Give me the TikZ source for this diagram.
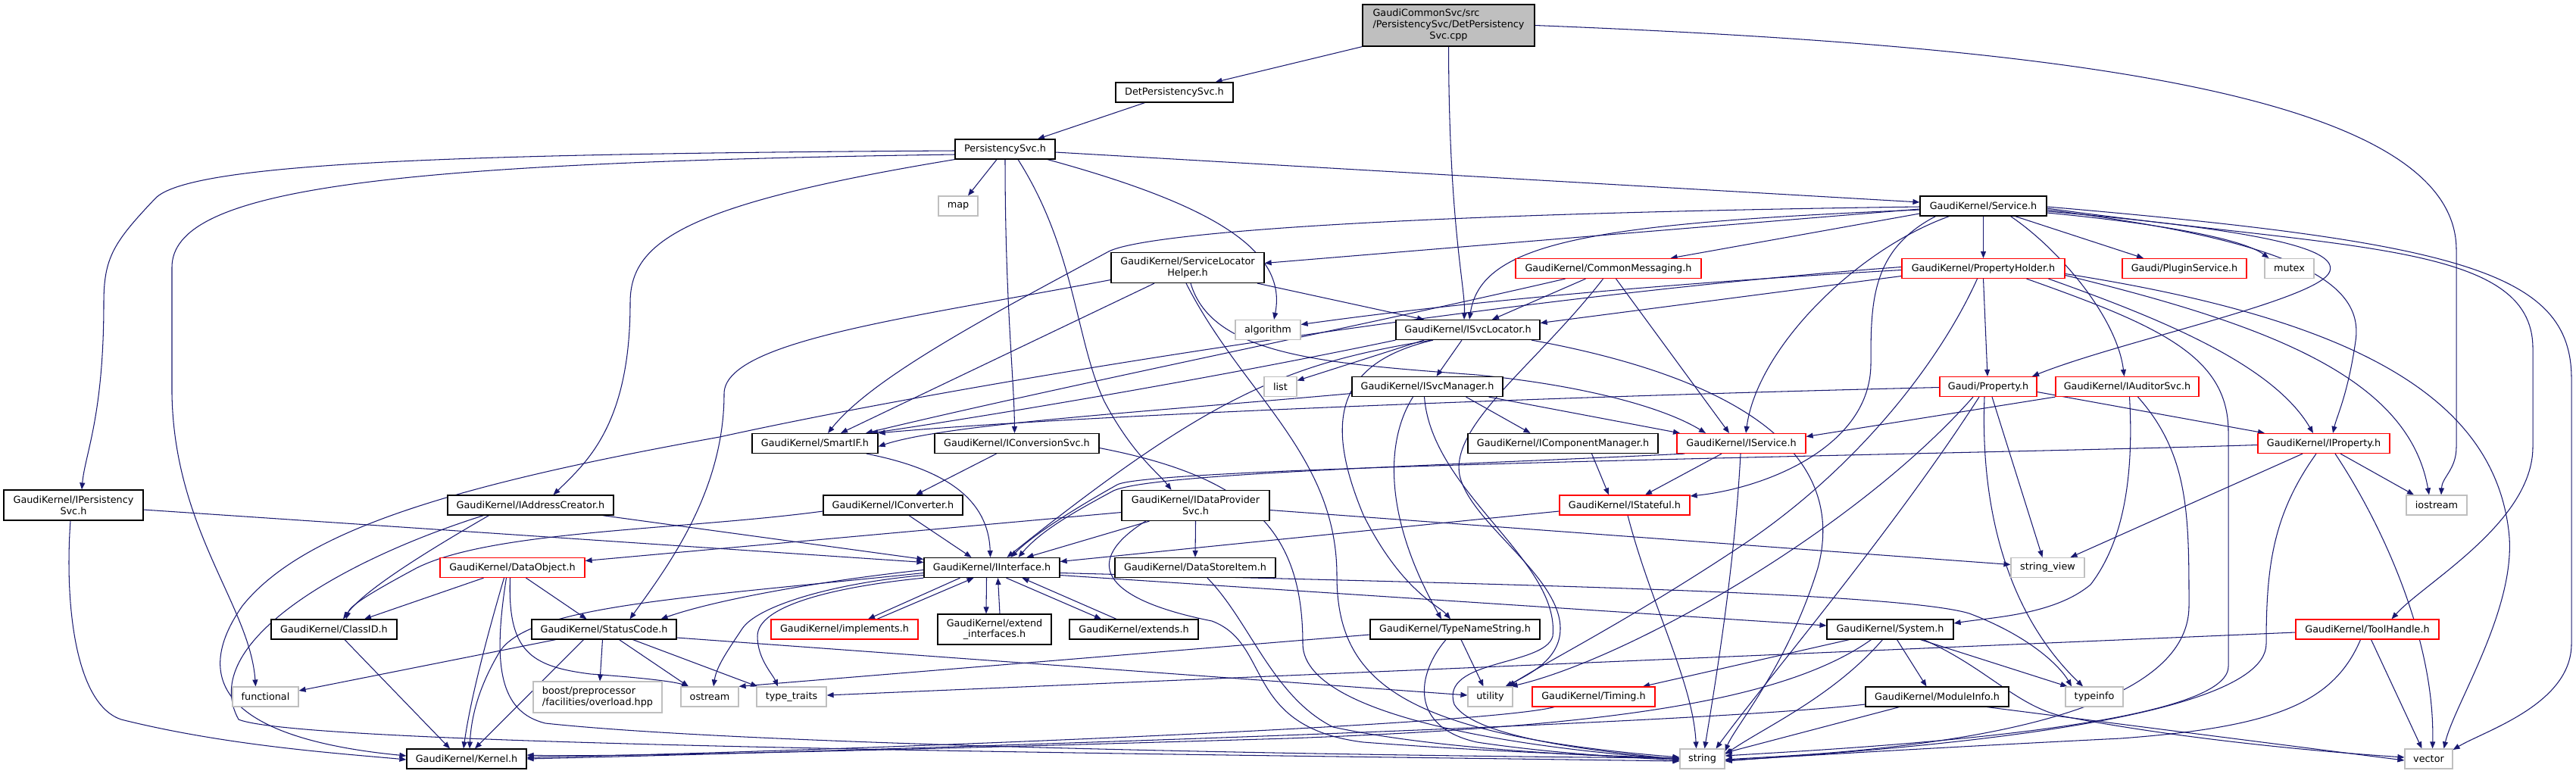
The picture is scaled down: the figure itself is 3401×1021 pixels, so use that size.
\documentclass[tikz,border=0pt]{standalone}
\usepackage{fontspec}
\setmainfont{DejaVu Sans}
\usetikzlibrary{arrows.meta}
\pgfdeclarelayer{back}
\pgfdeclarelayer{bg}
\pgfsetlayers{back,bg,main}
\definecolor{edgec}{RGB}{25,25,112}
\definecolor{grayb}{RGB}{191,191,191}
\definecolor{redb}{RGB}{255,0,0}
\begin{document}
\begin{tikzpicture}[x=1pt,y=-1pt,
  bx/.style={draw=black, fill=white, line width=1.2pt, inner sep=0pt, minimum height=26pt,
    font=\fontsize{12.8}{14.7}\selectfont, align=center},
  rbx/.style={bx, draw=redb},
  gbx/.style={bx, draw=grayb},
  edg/.style={draw=edgec, line width=1.05pt, -{Triangle[length=9pt,width=7pt]}}]
\begin{pgfonlayer}{back}
\fill[white] (0,0) rectangle (3401,1021);
\end{pgfonlayer}
\useasboundingbox (0,0) rectangle (3401,1021);
% ---------------- nodes ----------------
\node[bx, fill=grayb, minimum width=227pt, minimum height=55pt] (root) at (1912.5,33.5)
  {\begin{tabular}{@{}l@{}}GaudiCommonSvc/src\\/PersistencySvc/DetPersistency\\\multicolumn{1}{@{}c@{}}{Svc.cpp}\end{tabular}};
\node[bx, minimum width=155pt] (dph) at (1550.5,122) {DetPersistencySvc.h};
\node[bx, minimum width=132pt] (ps) at (1327,197) {PersistencySvc.h};
\node[gbx, minimum width=52pt] (map) at (1265,272) {map};
\node[bx, minimum width=167pt] (svc) at (2618.5,272) {GaudiKernel/Service.h};
\node[bx, minimum width=202pt, minimum height=40pt] (slh) at (1568,353.5) {GaudiKernel/ServiceLocator\\Helper.h};
\node[rbx, minimum width=245pt] (cm) at (2123.5,354.5) {GaudiKernel/CommonMessaging.h};
\node[rbx, minimum width=215pt] (ph) at (2618.5,354.5) {GaudiKernel/PropertyHolder.h};
\node[rbx, minimum width=164pt] (plg) at (2884,354.5) {Gaudi/PluginService.h};
\node[gbx, minimum width=65pt] (mutex) at (3022.5,354.5) {mutex};
\node[gbx, minimum width=86pt] (alg) at (1674,435.5) {algorithm};
\node[bx, minimum width=190pt] (isl) at (1938,435.5) {GaudiKernel/ISvcLocator.h};
\node[gbx, minimum width=43pt] (list) at (1690.5,510.5) {list};
\node[bx, minimum width=199pt] (ism) at (1884.5,510.5) {GaudiKernel/ISvcManager.h};
\node[rbx, minimum width=128pt] (prop) at (2625,510.5) {Gaudi/Property.h};
\node[rbx, minimum width=189pt] (ias) at (2808.5,510.5) {GaudiKernel/IAuditorSvc.h};
\node[bx, minimum width=166pt] (sif) at (1076,585.5) {GaudiKernel/SmartIF.h};
\node[bx, minimum width=217pt] (ics) at (1342.5,585.5) {GaudiKernel/IConversionSvc.h};
\node[bx, minimum width=251pt] (icm) at (2063.5,585.5) {GaudiKernel/IComponentManager.h};
\node[rbx, minimum width=170pt] (isv) at (2299,585.5) {GaudiKernel/IService.h};
\node[rbx, minimum width=174pt] (ipr) at (3068,585.5) {GaudiKernel/IProperty.h};
\node[bx, minimum width=184pt, minimum height=40pt] (ipers) at (97,667) {GaudiKernel/IPersistency\\Svc.h};
\node[bx, minimum width=219pt] (iac) at (700.5,667) {GaudiKernel/IAddressCreator.h};
\node[bx, minimum width=184pt] (icv) at (1179,667) {GaudiKernel/IConverter.h};
\node[bx, minimum width=195pt, minimum height=40pt] (idp) at (1578.5,667.5) {GaudiKernel/IDataProvider\\Svc.h};
\node[rbx, minimum width=172pt] (ist) at (2145,667) {GaudiKernel/IStateful.h};
\node[gbx, minimum width=80pt] (iost) at (3217,667) {iostream};
\node[bx, minimum width=179pt] (ii) at (1309.5,749.5) {GaudiKernel/IInterface.h};
\node[rbx, minimum width=191pt] (dob) at (676.5,749.5) {GaudiKernel/DataObject.h};
\node[bx, minimum width=212pt] (dsi) at (1578,749.5) {GaudiKernel/DataStoreItem.h};
\node[gbx, minimum width=97pt] (sv) at (2703.5,749.5) {string\_view};
\node[bx, minimum width=166pt] (cid) at (441,831) {GaudiKernel/ClassID.h};
\node[bx, minimum width=191pt] (sc) at (797.5,831) {GaudiKernel/StatusCode.h};
\node[rbx, minimum width=194pt] (impl) at (1115,831) {GaudiKernel/implements.h};
\node[bx, minimum width=150pt, minimum height=40pt] (extif) at (1313,831) {GaudiKernel/extend\\\_interfaces.h};
\node[bx, minimum width=170pt] (exts) at (1497,831) {GaudiKernel/extends.h};
\node[bx, minimum width=224pt] (tns) at (1921,831) {GaudiKernel/TypeNameString.h};
\node[bx, minimum width=167pt] (sys) at (2495.5,831) {GaudiKernel/System.h};
\node[rbx, minimum width=189pt] (th) at (3125.5,831) {GaudiKernel/ToolHandle.h};
\node[gbx, minimum width=87pt] (func) at (350.5,920) {functional};
\node[gbx, minimum width=170pt, minimum height=41pt, align=left] (boost) at (789,920.5) {boost/preprocessor\\/facilities/overload.hpp};
\node[gbx, minimum width=76pt] (ostr) at (937,920) {ostream};
\node[gbx, minimum width=92pt] (tt) at (1045,920) {type\_traits};
\node[gbx, minimum width=59pt] (util) at (1967.5,920) {utility};
\node[rbx, minimum width=162pt] (tim) at (2104,920) {GaudiKernel/Timing.h};
\node[bx, minimum width=189pt] (mi) at (2557.5,920) {GaudiKernel/ModuleInfo.h};
\node[gbx, minimum width=76pt] (ti) at (2765,920) {typeinfo};
\node[bx, minimum width=158pt] (ker) at (616,1002) {GaudiKernel/Kernel.h};
\node[gbx, minimum width=59pt] (str) at (2247.5,1002) {string};
\node[gbx, minimum width=63pt] (vec) at (3206.5,1002) {vector};
% ---------------- edges ----------------
\begin{pgfonlayer}{bg}
% root
\draw[edg] (root.south west) -- ([xshift=54pt]dph.north);
\draw[edg] (root.south) .. controls (1913,300) and (1935,380) .. ([xshift=-5pt]isl.north);
\draw[edg] (root.east) .. controls (2700,60) and (3243,120) .. (3243,330) -- (3243,590) .. controls (3243,620) and (3224,630) .. ([xshift=6pt]iost.north);
\draw[edg] ([xshift=-39pt]dph.south) -- ([xshift=43pt]ps.north);
% PersistencySvc.h
\draw[edg] ([xshift=-11pt]ps.south) -- ([xshift=13pt]map.north);
\draw[edg] ([yshift=-4pt]ps.east) -- ([yshift=5pt]svc.west);
\draw[edg] ([xshift=56pt]ps.south) .. controls (1600,270) and (1700,330) .. ([xshift=8pt]alg.north);
\draw[edg] ([yshift=-7pt]ps.west) .. controls (500,215) and (227,250) .. (227,353) -- (227,520) .. controls (230,700) and (330,800) .. ([xshift=-13pt]func.north);
\draw[edg] ([yshift=-2pt]ps.west) .. controls (600,203) and (250,215) .. (205,262) .. controls (150,320) and (137,340) .. (137,400) .. controls (137,550) and (112,600) .. ([xshift=11pt]ipers.north);
\draw[edg] (ps.south west) .. controls (900,270) and (832,320) .. (832,400) .. controls (832,560) and (775,610) .. ([xshift=30pt]iac.north);
\draw[edg] (ps.south) .. controls (1327,400) and (1339,500) .. ([xshift=-3pt]ics.north);
\draw[edg] ([xshift=17pt]ps.south) .. controls (1420,330) and (1420,450) .. (1458,530) .. controls (1495,600) and (1530,625) .. ([xshift=-32pt]idp.north);
% Service.h
\draw[edg] ([yshift=-4pt]svc.west) -- ([yshift=6pt]slh.east);
\draw[edg] ([yshift=-10pt]svc.west) -- ([xshift=82pt]cm.north);
\draw[edg] (svc.south) -- (ph.north);
\draw[edg] ([xshift=42pt]svc.south) -- ([xshift=-54pt]plg.north);
\draw[edg] ([yshift=-9pt]svc.east) .. controls (2850,295) and (2960,315) .. ([xshift=-27pt]mutex.north);
\draw[edg] ([yshift=-7pt]svc.east) .. controls (3000,305) and (3085,330) .. (3076,358) .. controls (3065,395) and (2800,450) .. ([xshift=58pt]prop.north);
\draw[edg] ([xshift=36pt]svc.south) .. controls (2720,330) and (2795,420) .. ([xshift=-4pt]ias.north);
\draw[edg] ([yshift=-5pt]svc.west) .. controls (2100,295) and (1955,320) .. ([xshift=2pt]isl.north);
\draw[edg] ([yshift=-1pt]svc.west) .. controls (1800,283) and (1500,310) .. (1462,333) .. controls (1300,420) and (1150,500) .. ([xshift=17pt]sif.north);
\draw[edg] ([xshift=-45pt]svc.south) .. controls (2450,330) and (2320,460) .. ([xshift=6pt]isv.north);
\draw[edg] ([xshift=-63pt]svc.south) .. controls (2470,330) and (2470,400) .. (2470,480) .. controls (2470,590) and (2330,645) .. ([yshift=12pt]ist.east);
\draw[edg] ([yshift=-5pt]svc.east) .. controls (3050,320) and (3120,380) .. (3110,450) .. controls (3100,520) and (3085,550) .. ([xshift=12pt]ipr.north);
\draw[edg] ([yshift=-3pt]svc.east) .. controls (3100,330) and (3344,320) .. (3344,460) -- (3344,590) .. controls (3344,690) and (3200,770) .. ([xshift=32pt]th.north);
\draw[edg] ([yshift=-1pt]svc.east) .. controls (3250,320) and (3395,360) .. (3395,500) -- (3395,850) .. controls (3395,930) and (3280,965) .. ([yshift=12pt]vec.east);
% PropertyHolder.h
\draw[edg] (ph.south) -- ([xshift=-1pt]prop.north);
\draw[edg] ([xshift=86pt]ph.south) .. controls (2850,420) and (3000,480) .. ([xshift=-14pt]ipr.north);
\draw[edg] ([yshift=-9pt]ph.east) .. controls (3000,430) and (3180,500) .. ([xshift=-10pt]iost.north);
\draw[edg] ([yshift=-7pt]ph.east) .. controls (3100,420) and (3290,520) .. (3312,700) .. controls (3325,800) and (3240,930) .. ([xshift=20pt]vec.north);
\draw[edg] ([xshift=57pt]ph.south) .. controls (2850,430) and (2942,470) .. (2942,570) -- (2942,880) .. controls (2942,965) and (2400,990) .. ([yshift=4pt]str.east);
\draw[edg] ([xshift=-8pt]ph.south) .. controls (2560,480) and (2450,620) .. (2300,720) .. controls (2150,820) and (2030,880) .. ([xshift=24pt]util.north);
\draw[edg] ([yshift=-2pt]ph.west) .. controls (2100,380) and (1850,410) .. ([yshift=7pt]alg.east);
\draw[edg] ([yshift=-10pt]ph.west) -- ([yshift=9pt]isl.east);
\draw[edg] ([yshift=2pt]ph.west) .. controls (2000,390) and (1300,500) .. (950,577) .. controls (600,640) and (400,700) .. (320,800) .. controls (250,900) and (300,975) .. ([yshift=4pt]ker.west);
% CommonMessaging.h
\draw[edg] ([xshift=-57pt]cm.south) .. controls (1800,430) and (1400,510) .. ([xshift=67pt]sif.north);
\draw[edg] ([xshift=-30pt]cm.south) -- ([xshift=32pt]isl.north);
\draw[edg] ([xshift=10pt]cm.south) -- ([xshift=-16pt]isv.north);
\draw[edg] ([xshift=-7pt]cm.south) .. controls (2030,480) and (1915,560) .. (1927,627) .. controls (1940,690) and (2060,760) .. (2060,830) .. controls (2060,870) and (2020,890) .. ([xshift=20pt]util.north);
% ISvcLocator.h
\draw[edg] (isl.south west) .. controls (1600,500) and (1300,550) .. ([xshift=74pt]sif.north);
\draw[edg] ([xshift=-48pt]isl.south) .. controls (1700,480) and (1600,520) .. ([xshift=20pt]ii.north);
\draw[edg] ([xshift=-8pt]isl.south) -- ([xshift=12pt]ism.north);
\draw[edg] ([xshift=-58pt]isl.south) -- ([yshift=8pt]list.east);
\draw[edg] ([xshift=-46pt]isl.south) .. controls (1760,480) and (1750,560) .. (1800,680) .. controls (1850,780) and (1900,800) .. ([xshift=-6pt]tns.north);
\draw[edg] ([xshift=84pt]isl.south) .. controls (2300,500) and (2440,600) .. (2400,750) .. controls (2360,880) and (2290,960) .. ([yshift=10pt]str.east);
% ServiceLocatorHelper.h
\draw[edg] ([yshift=-16pt]slh.west) .. controls (1200,420) and (956,450) .. (956,520) .. controls (956,650) and (880,750) .. ([xshift=34pt]sc.north);
\draw[edg] ([xshift=-44pt]slh.south) -- ([xshift=34pt]sif.north);
\draw[edg] ([xshift=92pt]slh.south) -- ([xshift=-58pt]isl.north);
\draw[edg] ([xshift=4pt]slh.south) .. controls (1600,470) and (1750,480) .. (1950,495) .. controls (2100,510) and (2200,540) .. ([xshift=-47pt]isv.north);
\draw[edg] ([xshift=-2pt]slh.south) .. controls (1640,520) and (1765,600) .. (1765,760) .. controls (1765,900) and (1850,970) .. ([yshift=2pt]str.west);
% ISvcManager.h
\draw[edg] ([xshift=51pt]ism.south) -- ([xshift=-43pt]icm.north);
\draw[edg] ([xshift=81pt]ism.south) -- ([xshift=-81pt]isv.north);
\draw[edg] ([yshift=-9pt]ism.west) .. controls (1500,545) and (1250,560) .. ([yshift=-4pt]sif.east);
\draw[edg] ([xshift=-19pt]ism.south) .. controls (1830,580) and (1825,680) .. ([xshift=-18pt]tns.north);
\draw[edg] ([xshift=-4pt]ism.south) .. controls (1890,650) and (2060,740) .. (2050,840) .. controls (2040,880) and (1900,870) .. (1920,930) .. controls (1950,980) and (2150,995) .. ([yshift=-1pt]str.west);
% IComponentManager, IService, IStateful
\draw[edg] ([xshift=38pt]icm.south) -- ([xshift=-21pt]ist.north);
\draw[edg] ([xshift=-26pt]isv.south) -- ([xshift=27pt]ist.north);
\draw[edg] ([xshift=-75pt]isv.south) .. controls (1900,615) and (1520,625) .. (1470,648) .. controls (1420,675) and (1375,700) .. ([xshift=35pt]ii.north);
\draw[edg] ([xshift=-1pt]isv.south) .. controls (2290,750) and (2265,900) .. ([xshift=3pt]str.north);
\draw[edg] ([yshift=-8pt]ist.west) -- ([yshift=8pt]ii.east);
\draw[edg] ([xshift=4pt]ist.south) .. controls (2180,800) and (2235,900) .. ([xshift=-8pt]str.north);
% IProperty.h
\draw[edg] ([xshift=-28pt]ipr.south) -- ([xshift=30pt]sv.north);
\draw[edg] ([xshift=22pt]ipr.south) -- ([xshift=-30pt]iost.north);
\draw[edg] ([xshift=-10pt]ipr.south) .. controls (3000,680) and (2992,750) .. (2992,850) .. controls (2992,965) and (2400,995) .. ([yshift=-3pt]str.east);
\draw[edg] ([xshift=15pt]ipr.south) .. controls (3150,700) and (3215,850) .. ([xshift=5pt]vec.north);
\draw[edg] ([yshift=-2pt]ipr.west) .. controls (2600,600) and (1520,615) .. (1475,640) .. controls (1425,668) and (1365,705) .. ([xshift=25pt]ii.north);
% Gaudi/Property.h
\draw[edg] ([yshift=-7pt]prop.east) -- ([xshift=-78pt]ipr.north);
\draw[edg] ([xshift=5pt]prop.south) -- ([xshift=-7pt]sv.north);
\draw[edg] ([xshift=-5pt]prop.south) .. controls (2615,650) and (2640,800) .. ([xshift=-15pt]ti.north);
\draw[edg] ([xshift=-12pt]prop.south) .. controls (2500,700) and (2330,900) .. ([xshift=18pt]str.north);
\draw[edg] ([xshift=-20pt]prop.south) .. controls (2450,700) and (2150,870) .. ([xshift=27pt]util.north);
\draw[edg] ([yshift=-1pt]prop.west) .. controls (2000,525) and (1400,550) .. (sif.north east);
% IAuditorSvc.h
\draw[edg] (ias.south west) -- ([yshift=9pt]isv.east);
\draw[edg] ([xshift=3pt]ias.south) .. controls (2818,640) and (2800,720) .. (2760,772) .. controls (2712,812) and (2630,815) .. ([yshift=8pt]sys.east);
\draw[edg] ([xshift=14pt]ias.south) .. controls (2890,600) and (2890,680) .. (2890,800) .. controls (2890,980) and (2400,995) .. ([yshift=-1pt]str.east);
% SmartIF, IConversionSvc, IConverter
\draw[edg] ([xshift=68pt]sif.south) .. controls (1250,620) and (1305,660) .. ([xshift=-2pt]ii.north);
\draw[edg] ([xshift=-27pt]ics.south) -- ([xshift=30pt]icv.north);
\draw[edg] ([yshift=-6pt]ics.east) .. controls (1650,630) and (1720,700) .. (1720,850) .. controls (1720,960) and (2100,995) .. (str.west);
\draw[edg] ([xshift=21pt]icv.south) -- ([xshift=-27pt]ii.north);
\draw[edg] ([yshift=-8pt]icv.west) .. controls (900,700) and (650,700) .. (550,750) .. controls (485,785) and (462,800) .. ([xshift=16pt]cid.north);
% IPersistencySvc, IAddressCreator
\draw[edg] ([yshift=-6pt]ipers.east) -- ([yshift=7pt]ii.west);
\draw[edg] ([xshift=-4pt]ipers.south) .. controls (85,800) and (100,930) .. (160,950) .. controls (300,985) and (450,995) .. ([yshift=-1pt]ker.west);
\draw[edg] ([xshift=95pt]iac.south) -- ([yshift=11pt]ii.west);
\draw[edg] ([xshift=-55pt]iac.south) .. controls (560,730) and (480,780) .. ([xshift=12pt]cid.north);
\draw[edg] ([xshift=-62pt]iac.south) .. controls (450,740) and (260,850) .. (315,950) .. controls (400,985) and (1500,995) .. ([yshift=-3pt]str.west);
% DataObject.h
\draw[edg] ([xshift=-38pt]dob.south) -- ([xshift=40pt]cid.north);
\draw[edg] ([xshift=18pt]dob.south) -- ([xshift=-23pt]sc.north);
\draw[edg] ([xshift=-11pt]dob.south) .. controls (640,850) and (620,930) .. ([xshift=-4pt]ker.north);
\draw[edg] ([xshift=-3pt]dob.south) .. controls (670,860) and (700,880) .. (780,890) .. controls (850,895) and (890,900) .. ([xshift=-28pt]ostr.north);
\draw[edg] ([xshift=-8pt]dob.south) .. controls (650,880) and (660,940) .. (720,955) .. controls (1000,985) and (1800,998) .. ([yshift=1pt]str.west);
% ClassID, StatusCode
\draw[edg] ([xshift=14pt]cid.south) -- ([xshift=-22pt]ker.north);
\draw[edg] ([xshift=-64pt]sc.south) -- ([yshift=8pt]func.east);
\draw[edg] ([xshift=-27pt]sc.south) -- ([xshift=11pt]ker.north);
\draw[edg] ([xshift=-2pt]sc.south) -- ([xshift=3pt]boost.north);
\draw[edg] ([xshift=20pt]sc.south) -- ([xshift=-28pt]ostr.north);
\draw[edg] ([xshift=38pt]sc.south) -- ([xshift=-45pt]tt.north);
\draw[edg] ([yshift=-11pt]sc.east) -- ([yshift=2pt]util.west);
% IInterface.h
\draw[edg] ([xshift=-42pt]ii.south) -- ([xshift=31pt]impl.north);
\draw[edg] ([xshift=43pt]impl.north) -- ([xshift=-24pt]ii.south);
\draw[edg] ([xshift=-7pt]ii.south) -- ([xshift=-11pt]extif.north);
\draw[edg] ([xshift=7pt]extif.north) -- ([xshift=8pt]ii.south);
\draw[edg] ([xshift=19pt]ii.south) -- ([xshift=-43pt]exts.north);
\draw[edg] ([xshift=-23pt]exts.north) -- ([xshift=40pt]ii.south);
\draw[edg] ([yshift=-3pt]ii.west) .. controls (1100,765) and (950,790) .. ([xshift=75pt]sc.north);
\draw[edg] ([yshift=-7pt]ii.west) .. controls (900,790) and (700,800) .. (660,860) .. controls (630,910) and (622,950) .. ([xshift=4pt]ker.north);
\draw[edg] ([yshift=-10pt]ii.west) .. controls (1100,770) and (1000,800) .. (980,830) .. controls (960,860) and (946,880) .. ([xshift=5pt]ostr.north);
\draw[edg] (ii.south west) .. controls (1100,775) and (1000,800) .. (1000,840) .. controls (1000,870) and (1020,890) .. ([xshift=-18pt]tt.north);
\draw[edg] ([yshift=-7pt]ii.east) .. controls (1900,770) and (2500,780) .. (2600,810) .. controls (2680,840) and (2720,880) .. ([xshift=-30pt]ti.north);
\draw[edg] ([yshift=-10pt]ii.east) -- ([yshift=5pt]sys.west);
% IDataProviderSvc, DataStoreItem
\draw[edg] ([yshift=-9pt]idp.west) -- ([yshift=9pt]dob.east);
\draw[edg] (idp.south) -- (dsi.north);
\draw[edg] ([xshift=-61pt]idp.south) -- ([xshift=46pt]ii.north);
\draw[edg] ([xshift=-66pt]idp.south) .. controls (1430,740) and (1450,790) .. (1600,820) .. controls (1680,850) and (1640,960) .. (1800,980) .. controls (2000,995) and (2150,998) .. (str.west);
\draw[edg] ([yshift=-6pt]idp.east) -- ([yshift=4pt]sv.west);
\draw[edg] ([xshift=16pt]dsi.south) .. controls (1650,820) and (1680,920) .. (1760,960) .. controls (1900,990) and (2100,998) .. (str.west);
% TypeNameString
\draw[edg] ([xshift=8pt]tns.south) -- ([xshift=-9pt]util.north);
\draw[edg] ([xshift=-12pt]tns.south) .. controls (1870,890) and (1860,960) .. (1950,980) .. controls (2050,995) and (2150,1000) .. ([yshift=-2pt]str.west);
\draw[edg] ([yshift=-7pt]tns.west) -- (ostr.north east);
% System.h
\draw[edg] ([xshift=-54pt]sys.south) -- ([xshift=65pt]tim.north);
\draw[edg] ([xshift=-25pt]sys.south) .. controls (2350,930) and (2100,960) .. (1700,975) .. controls (1200,990) and (800,1000) .. ([yshift=5pt]ker.east);
\draw[edg] ([xshift=-10pt]sys.south) .. controls (2420,920) and (2330,960) .. ([yshift=6pt]str.east);
\draw[edg] ([xshift=9pt]sys.south) -- ([xshift=-14pt]mi.north);
\draw[edg] ([xshift=40pt]sys.south) -- ([xshift=3pt]ti.north west);
\draw[edg] ([xshift=44pt]sys.south) .. controls (2620,880) and (2660,930) .. (2720,945) .. controls (2900,980) and (3100,995) .. ([yshift=2pt]vec.west);
% ModuleInfo, Timing
\draw[edg] ([yshift=-10pt]mi.west) .. controls (2200,960) and (1000,995) .. (ker.east);
\draw[edg] ([xshift=-50pt]mi.south) -- ([yshift=8pt]str.east);
\draw[edg] ([xshift=66pt]mi.south) -- ([yshift=-2pt]vec.west);
\draw[edg] ([xshift=-52pt]tim.south) .. controls (1950,960) and (1000,995) .. ([yshift=2pt]ker.east);
% ToolHandle
\draw[edg] ([xshift=-9pt]th.south) .. controls (3080,930) and (3000,960) .. (2800,975) .. controls (2500,990) and (2350,1000) .. ([yshift=-2pt]str.east);
\draw[edg] ([xshift=5pt]th.south) -- ([xshift=-9pt]vec.north);
\draw[edg] ([yshift=-4pt]th.west) -- ([yshift=2pt]tt.east);
\end{pgfonlayer}
\end{tikzpicture}
\end{document}
